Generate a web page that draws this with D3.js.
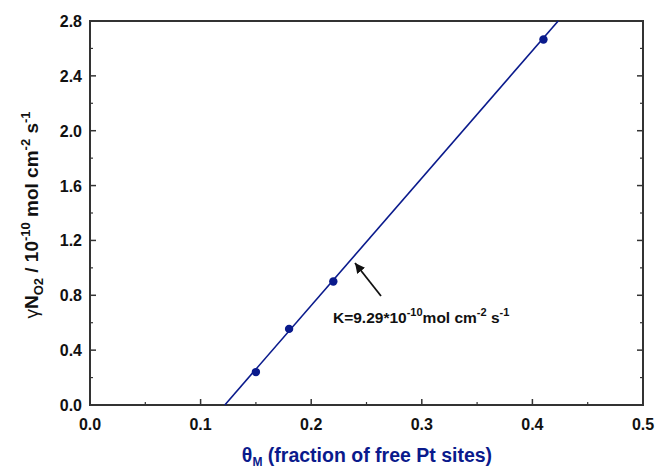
<!DOCTYPE html>
<html>
<head>
<meta charset="utf-8">
<script src="https://cdn.jsdelivr.net/npm/d3@7"></script>
<style>
  body { margin: 0; background: #fff; }
  text { font-family: "Liberation Sans", Arial, sans-serif; }
</style>
</head>
<body>
<svg id="chart" width="660" height="472"></svg>
<script>
// measured points
const thetaM = [0.15, 0.18, 0.22, 0.41];
const gammaN = [0.24, 0.555, 0.90, 2.665];
// fitted line endpoints (slope K = 9.29)
const fitX = [0.1219, 0.4233];
const fitY = [0.0, 2.8];
const xTicks = [0, 0.1, 0.2, 0.3, 0.4, 0.5];
const yTicks = [0, 0.4, 0.8, 1.2, 1.6, 2.0, 2.4, 2.8];

const svg = d3.select('#chart');
const margin = { top: 21, right: 17, bottom: 67, left: 90 };
const width = 660 - margin.left - margin.right;
const height = 472 - margin.top - margin.bottom;
const g = svg.append("g").attr("transform", `translate(${margin.left},${margin.top})`);

const x = d3.scaleLinear().domain([0, 0.5]).range([0, width]);
const y = d3.scaleLinear().domain([0, 2.8]).range([height, 0]);

const blue = "#0a1a8c";
const frame = "#333";

// minor ticks
const xMinor = d3.range(0.05, 0.5, 0.1);
const yMinor = d3.range(0.2, 2.8, 0.4);

g.selectAll(".xmaj").data(xTicks.slice(1, -1)).enter().append("line")
    .attr("x1", d => x(d)).attr("x2", d => x(d))
    .attr("y1", height).attr("y2", height - 6)
    .attr("stroke", frame).attr("stroke-width", 1.5);
g.selectAll(".xmin").data(xMinor).enter().append("line")
    .attr("x1", d => x(d)).attr("x2", d => x(d))
    .attr("y1", height).attr("y2", height - 3)
    .attr("stroke", frame).attr("stroke-width", 1.2);

[0, width].forEach((side, i) => {
    const dir = i === 0 ? 1 : -1;
    g.selectAll(".ymaj" + i).data(yTicks.slice(1, -1)).enter().append("line")
        .attr("x1", side).attr("x2", side + dir * 6)
        .attr("y1", d => y(d)).attr("y2", d => y(d))
        .attr("stroke", frame).attr("stroke-width", 1.5);
    g.selectAll(".ymin" + i).data(yMinor).enter().append("line")
        .attr("x1", side).attr("x2", side + dir * 3)
        .attr("y1", d => y(d)).attr("y2", d => y(d))
        .attr("stroke", frame).attr("stroke-width", 1.2);
});

// frame
g.append("rect")
    .attr("width", width).attr("height", height)
    .attr("fill", "none").attr("stroke", frame).attr("stroke-width", 2);

// tick labels
g.selectAll(".xl").data(xTicks).enter().append("text")
    .attr("x", d => x(d)).attr("y", height + 25)
    .attr("text-anchor", "middle")
    .attr("font-size", 16).attr("font-weight", "bold").attr("fill", "#111")
    .text(d => d3.format(".1f")(d));

g.selectAll(".yl").data(yTicks).enter().append("text")
    .attr("x", -8).attr("y", d => y(d) + 6)
    .attr("text-anchor", "end")
    .attr("font-size", 16).attr("font-weight", "bold").attr("fill", "#111")
    .text(d => d3.format(".1f")(d));

// fit line
const line = d3.line().x(d => x(d[0])).y(d => y(d[1]));
g.append("path")
    .datum(fitX.map((v, i) => [v, fitY[i]]))
    .attr("d", line)
    .attr("fill", "none").attr("stroke", blue).attr("stroke-width", 1.6);

// points
g.selectAll(".pt").data(thetaM).enter().append("circle")
    .attr("cx", d => x(d)).attr("cy", (d, i) => y(gammaN[i]))
    .attr("r", 4.2).attr("fill", blue);

// annotation arrow
svg.append("defs").append("marker")
    .attr("id", "ah").attr("viewBox", "0 0 10 10")
    .attr("refX", 10).attr("refY", 5)
    .attr("markerWidth", 10).attr("markerHeight", 10)
    .attr("markerUnits", "userSpaceOnUse")
    .attr("orient", "auto")
    .append("path").attr("d", "M0,0 L10,5 L0,10 Z").attr("fill", "#111");

svg.append("line")
    .attr("x1", 381).attr("y1", 296)
    .attr("x2", 355).attr("y2", 263)
    .attr("stroke", "#111").attr("stroke-width", 1.8)
    .attr("marker-end", "url(#ah)");

const ann = svg.append("text")
    .attr("x", 333).attr("y", 323)
    .attr("font-size", 15.5).attr("font-weight", "bold").attr("fill", "#111");
ann.append("tspan").text("K=9.29*10");
ann.append("tspan").attr("dy", -7).attr("font-size", 11).text("-10");
ann.append("tspan").attr("dy", 7).text("mol cm");
ann.append("tspan").attr("dy", -7).attr("font-size", 11).text("-2");
ann.append("tspan").attr("dy", 7).text(" s");
ann.append("tspan").attr("dy", -7).attr("font-size", 11).text("-1");

// x axis title
const xt = svg.append("text")
    .attr("x", 367).attr("y", 462)
    .attr("text-anchor", "middle")
    .attr("font-size", 19.5).attr("font-weight", "bold").attr("fill", blue);
xt.append("tspan").text("θ");
xt.append("tspan").attr("dy", 4).attr("font-size", 12).text("M");
xt.append("tspan").attr("dy", -4).text(" (fraction of free Pt sites)");

// y axis title
const yt = svg.append("text")
    .attr("transform", "translate(38,215) rotate(-90)")
    .attr("text-anchor", "middle")
    .attr("font-size", 19).attr("font-weight", "bold").attr("fill", "#111");
yt.append("tspan").attr("font-weight", "normal").text("γ");
yt.append("tspan").text("N");
yt.append("tspan").attr("dy", 5).attr("font-size", 13).text("O2");
yt.append("tspan").attr("dy", -5).text(" / 10");
yt.append("tspan").attr("dy", -8).attr("font-size", 13).text("-10");
yt.append("tspan").attr("dy", 8).text(" mol cm");
yt.append("tspan").attr("dy", -8).attr("font-size", 13).text("-2");
yt.append("tspan").attr("dy", 8).text(" s");
yt.append("tspan").attr("dy", -8).attr("font-size", 13).text("-1");
</script>
</body>
</html>
